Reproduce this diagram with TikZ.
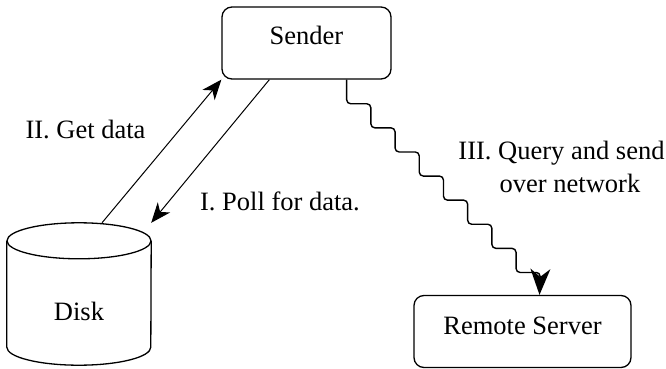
\documentclass[tikz,border=0pt]{standalone}
\usepackage{fontspec}
\setmainfont{Liberation Serif}
\usetikzlibrary{arrows.meta}
\begin{document}
\begin{tikzpicture}[x=1pt,y=1pt,
  every node/.style={font=\fontsize{26.5}{33}\selectfont, inner sep=0pt},
  box/.style={draw, line width=1.3pt, rounded corners=10pt,
    text height=38pt, text depth=34pt, minimum height=72pt},
  link/.style={line width=1pt, -{Stealth[length=20pt,width=16pt,inset=6pt]}},
  wave/.style={line width=1.4pt, rounded corners=4pt,
    -{Stealth[length=26pt,width=20pt,inset=8pt]}},
  lbl/.style={anchor=base}]
\useasboundingbox (0,0) rectangle (666,-369);

% boxes
\node[box, minimum width=169pt] (sender) at (306.5,-43) {Sender};
\node[box, minimum width=217pt, text height=38.5pt, text depth=33.5pt]
  (remote) at (522.5,-331.5) {Remote Server};

% disk: a node for the text, outline drawn as a cylinder around it
\node[minimum width=144pt, minimum height=142pt, text height=97pt, text depth=45pt]
  (disk) at (79,-294) {Disk};
\draw[line width=1.3pt] ([yshift=-18pt]disk.north) ellipse [x radius=72pt, y radius=18pt];
\draw[line width=1.3pt] ([yshift=-18pt]disk.north west) -- ([yshift=18pt]disk.south west)
  arc[start angle=180, end angle=360, x radius=72pt, y radius=18pt]
  -- ([yshift=-18pt]disk.north east);

% disk <-> sender
\draw[link] ([xshift=23pt]disk.north) -- (sender.south west);
\draw[link] ([xshift=48pt]sender.south west) -- (disk.north east);

% network link as a staircase wave
\draw[wave] ([xshift=-45pt]sender.south east)
  \foreach \k in {1,...,8}{ -- ++(0,-24.1) -- ++(24.2,0) }
  -- ([xshift=17pt]remote.north);

% labels
\node[lbl] (lget) at (85.5,-138) {II. Get data};
\node[lbl] (lpoll) at (280,-210) {I. Poll for data.};
\node[lbl] (lquery) at (561.5,-159.5) {III. Query and send};
\node[lbl] (lnet) at (570,-192.5) {over network};
\end{tikzpicture}
\end{document}
